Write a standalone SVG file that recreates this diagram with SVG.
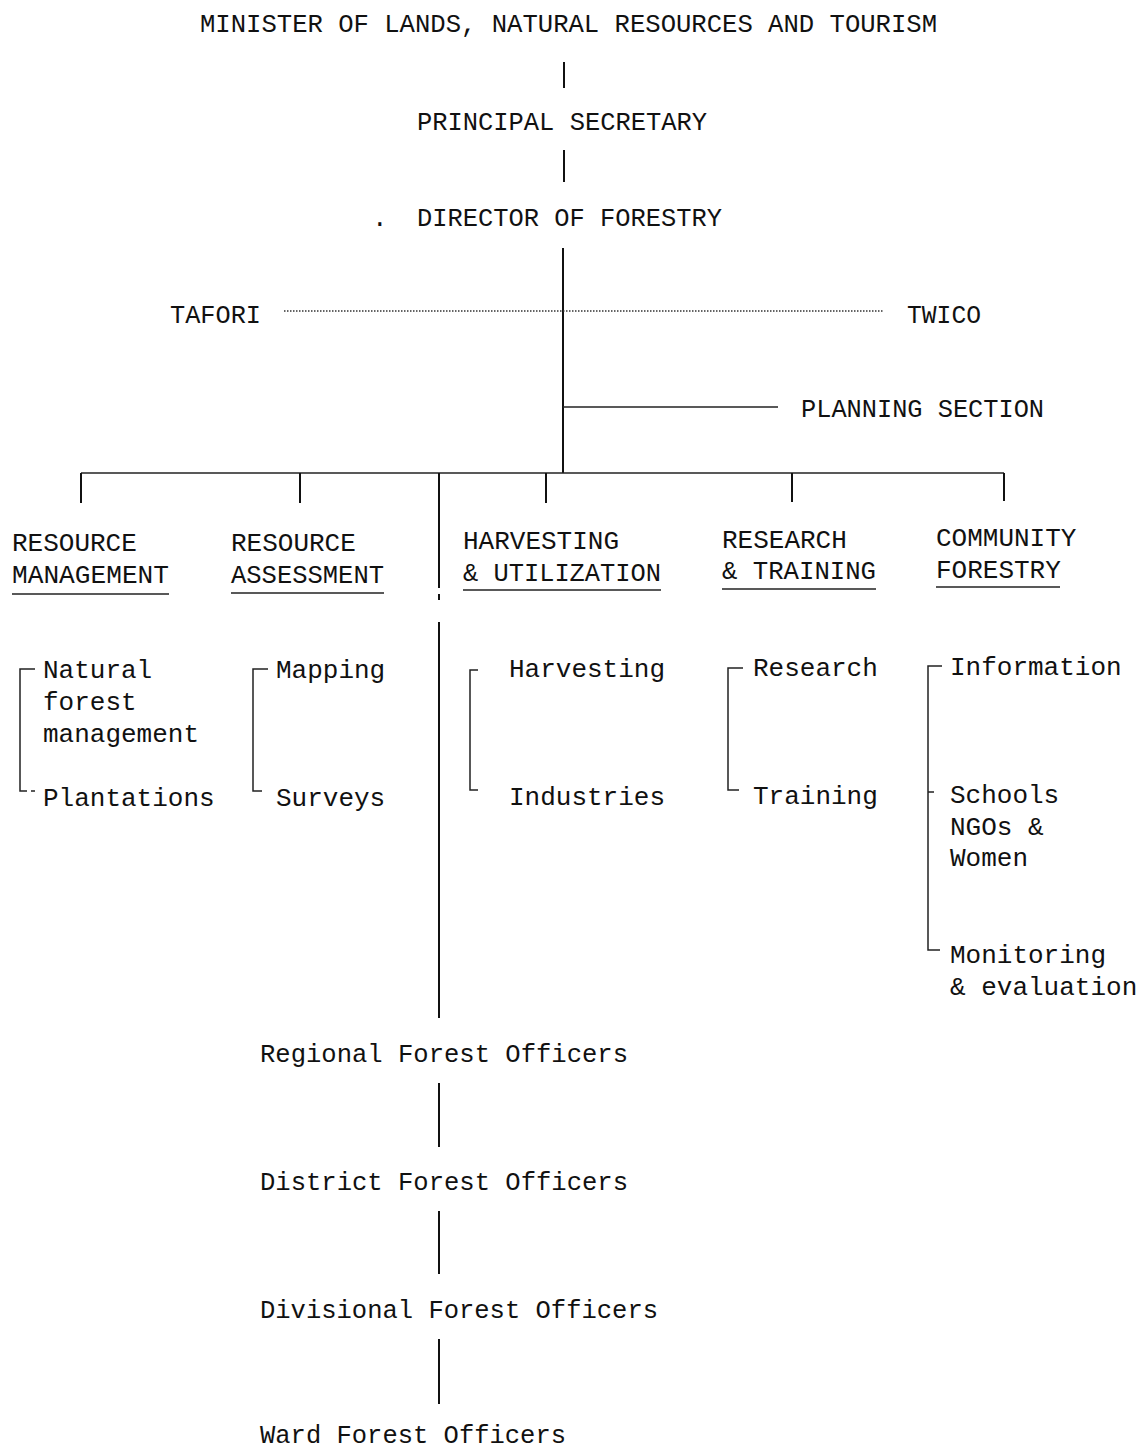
<svg xmlns="http://www.w3.org/2000/svg" width="1138" height="1451" viewBox="0 0 1138 1451">
<style>
text{font-family:"Liberation Mono","DejaVu Sans Mono",monospace;font-size:26px;fill:#111}
.ln{stroke:#111;stroke-width:2;fill:none}
.thin{stroke:#222;stroke-width:1.5;fill:none}
.dot{stroke:#333;stroke-width:1.5;stroke-dasharray:1.5 1.5;fill:none}
</style>
<rect width="1138" height="1451" fill="#fff"/>
<g id="connectors">
<line class="ln" x1="564" y1="62" x2="564" y2="88"/>
<line class="ln" x1="564" y1="150" x2="564" y2="182"/>
<line class="ln" x1="563" y1="248" x2="563" y2="473"/>
<line class="dot" x1="284" y1="311" x2="883" y2="311"/>
<line class="thin" x1="563" y1="407" x2="778" y2="407"/>
<line class="thin" x1="81" y1="473" x2="1004" y2="473"/>
<line class="ln" x1="81" y1="473" x2="81" y2="503"/>
<line class="ln" x1="300" y1="473" x2="300" y2="503"/>
<line class="ln" x1="546" y1="473" x2="546" y2="503"/>
<line class="ln" x1="792" y1="473" x2="792" y2="502"/>
<line class="ln" x1="1004" y1="473" x2="1004" y2="501"/>
<line class="ln" x1="439" y1="473" x2="439" y2="588"/>
<line class="ln" x1="439" y1="594" x2="439" y2="600"/>
<line class="ln" x1="439" y1="622" x2="439" y2="1018"/>
<line class="ln" x1="439" y1="1083" x2="439" y2="1147"/>
<line class="ln" x1="439" y1="1211" x2="439" y2="1274"/>
<line class="ln" x1="439" y1="1339" x2="439" y2="1404"/>
<line class="thin" x1="12" y1="594" x2="169" y2="594"/>
<line class="thin" x1="231" y1="593" x2="384" y2="593"/>
<line class="thin" x1="463" y1="590" x2="661" y2="590"/>
<line class="thin" x1="722" y1="589" x2="876" y2="589"/>
<line class="thin" x1="936" y1="587" x2="1060" y2="587"/>
<path class="thin" d="M35 669 H20 V791 H27 M31 791 H35"/>
<path class="thin" d="M268 669 H253 V791 H262"/>
<path class="thin" d="M478 670 H470 V790 H478"/>
<path class="thin" d="M743 668 H728 V790 H739"/>
<path class="thin" d="M942 666 H928 V950 H940 M928 792 H934"/>
</g>
<g id="minister"><text x="200" y="32" textLength="737" lengthAdjust="spacingAndGlyphs">MINISTER OF LANDS, NATURAL RESOURCES AND TOURISM</text></g>
<g id="principal-secretary"><text x="417" y="130" textLength="290" lengthAdjust="spacingAndGlyphs">PRINCIPAL SECRETARY</text></g>
<g id="director"><text x="372" y="226">.</text><text x="417" y="226" textLength="305" lengthAdjust="spacingAndGlyphs">DIRECTOR OF FORESTRY</text></g>
<g id="tafori"><text x="170" y="323" textLength="91" lengthAdjust="spacingAndGlyphs">TAFORI</text></g>
<g id="twico"><text x="907" y="323" textLength="74" lengthAdjust="spacingAndGlyphs">TWICO</text></g>
<g id="planning"><text x="801" y="417" textLength="243" lengthAdjust="spacingAndGlyphs">PLANNING SECTION</text></g>
<g id="resource-management"><text x="12" y="551">RESOURCE</text><text x="12" y="583" textLength="157" lengthAdjust="spacingAndGlyphs">MANAGEMENT</text></g>
<g id="resource-assessment"><text x="231" y="551">RESOURCE</text><text x="231" y="583" textLength="153" lengthAdjust="spacingAndGlyphs">ASSESSMENT</text></g>
<g id="harvesting-utilization"><text x="463" y="549">HARVESTING</text><text x="463" y="581" textLength="198" lengthAdjust="spacingAndGlyphs">&amp; UTILIZATION</text></g>
<g id="research-training"><text x="722" y="548">RESEARCH</text><text x="722" y="579" textLength="154" lengthAdjust="spacingAndGlyphs">&amp; TRAINING</text></g>
<g id="community-forestry"><text x="936" y="546">COMMUNITY</text><text x="936" y="578">FORESTRY</text></g>
<g id="rm-items"><text x="43" y="678">Natural</text><text x="43" y="710">forest</text><text x="43" y="742">management</text><text x="43" y="806">Plantations</text></g>
<g id="ra-items"><text x="276" y="678">Mapping</text><text x="276" y="806">Surveys</text></g>
<g id="hu-items"><text x="509" y="677">Harvesting</text><text x="509" y="805">Industries</text></g>
<g id="rt-items"><text x="753" y="676">Research</text><text x="753" y="804">Training</text></g>
<g id="cf-items"><text x="950" y="675">Information</text><text x="950" y="803">Schools</text><text x="950" y="835">NGOs &amp;</text><text x="950" y="866">Women</text><text x="950" y="963">Monitoring</text><text x="950" y="995">&amp; evaluation</text></g>
<g id="regional"><text x="260" y="1062" textLength="368" lengthAdjust="spacingAndGlyphs">Regional Forest Officers</text></g>
<g id="district"><text x="260" y="1190" textLength="368" lengthAdjust="spacingAndGlyphs">District Forest Officers</text></g>
<g id="divisional"><text x="260" y="1318" textLength="398" lengthAdjust="spacingAndGlyphs">Divisional Forest Officers</text></g>
<g id="ward"><text x="260" y="1443" textLength="306" lengthAdjust="spacingAndGlyphs">Ward Forest Officers</text></g>
</svg>
